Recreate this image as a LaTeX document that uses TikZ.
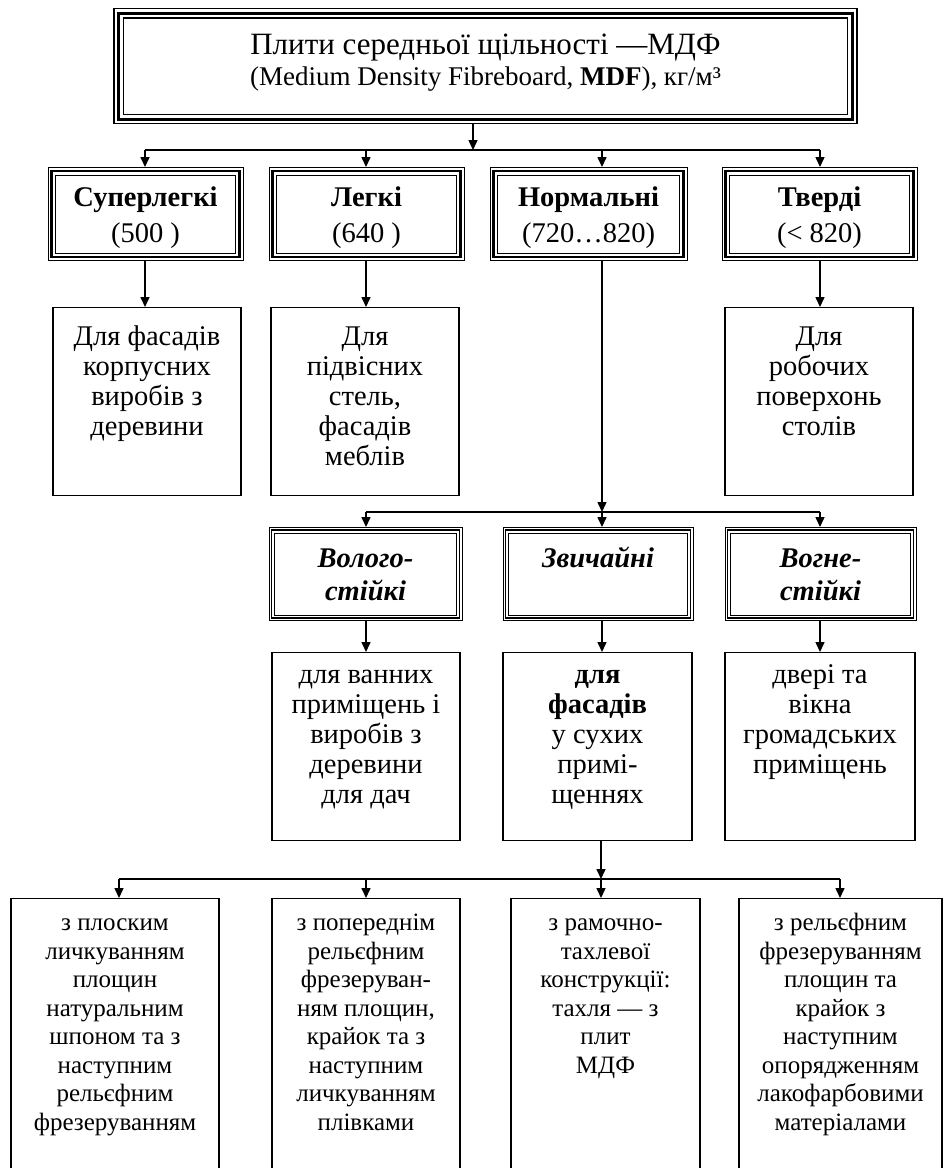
\documentclass[tikz,border=0pt]{standalone}
\usepackage{fontspec}
\setmainfont{Liberation Serif}
\usetikzlibrary{arrows.meta}
\newcommand\bt[4]{\parbox[c][#1pt][t]{#2pt}{\centering\lineskiplimit=-100pt\lineskip=0pt\rule{0pt}{#3pt}#4\par}}
\newcommand\tribox[5]{%
  \draw[line width=#3pt] ([shift={(#2,#2)}]#1.north west) rectangle ([shift={(-#2,-#2)}]#1.south east);
  \draw[line width=#5pt] ([shift={(#4,#4)}]#1.north west) rectangle ([shift={(-#4,-#4)}]#1.south east);}
\begin{document}
\begin{tikzpicture}[x=1pt,y=-1pt,
  conn/.style={line width=1.5pt,-{Triangle[width=9pt,length=10pt]}},
  bar/.style={line width=1.5pt},
  plain/.style={draw,line width=1.2pt,inner sep=0pt,anchor=north,font=\fontsize{28.5}{30}\selectfont},
  small/.style={plain,font=\fontsize{25}{28.5}\selectfont},
  lvtwo/.style={draw,line width=1pt,inner sep=0pt,anchor=north,font=\fontsize{28.5}{36}\selectfont},
  lvfour/.style={draw,line width=1pt,inner sep=0pt,anchor=north,font=\fontsize{28.5}{33}\selectfont},
  topst/.style={draw,line width=1.2pt,inner sep=0pt,anchor=north,font=\fontsize{27}{31}\selectfont}]
\useasboundingbox (0,0) rectangle (943,1168);
\clip (0,0) rectangle (943,1168);
% top
\node[topst] (top) at (485.5,8) {\bt{115}{743}{46}{{\fontsize{31}{31}\selectfont Плити середньої щільності —МДФ}\\(Medium Density Fibreboard, \textbf{MDF}), кг/м³}};
\tribox{top}{5}{3}{10}{1.2}
% level 2
\node[lvtwo] (sl) at (145.5,167) {\bt{93}{195}{39}{\textbf{Суперлегкі}\\(500 )}};
\node[lvtwo] (lg) at (366.5,167) {\bt{93}{195}{39}{\textbf{Легкі}\\(640 )}};
\node[lvtwo] (nr) at (588.5,167) {\bt{93}{197}{39}{\textbf{Нормальні}\\(720…820)}};
\node[lvtwo] (tv) at (819.5,167) {\bt{93}{195}{39}{\textbf{Тверді}\\(< 820)}};
\foreach \n in {sl,lg,nr,tv}{\tribox{\n}{4}{2.6}{8}{1}}
% level 3
\node[plain] (sla) at (147,307) {\bt{188}{188}{38}{Для фасадів\\корпусних\\виробів з\\деревини}};
\node[plain] (lga) at (365,307) {\bt{188}{188}{38}{Для\\підвісних\\стель,\\фасадів\\меблів}};
\node[plain] (tva) at (819,307) {\bt{188}{188}{38}{Для\\робочих\\поверхонь\\столів}};
% level 4
\node[lvfour] (vs) at (365.5,527) {\bt{93}{193}{40}{\textbf{\textit{Волого-}}\\\textbf{\textit{стійкі}}}};
\node[lvfour] (zv) at (598,527) {\bt{93}{190}{40}{\textbf{\textit{Звичайні}}}};
\node[lvfour] (vg) at (820.5,527) {\bt{93}{191}{40}{\textbf{\textit{Вогне-}}\\\textbf{\textit{стійкі}}}};
\foreach \n in {vs,zv,vg}{\tribox{\n}{3}{1.4}{6}{1}}
% level 5
\node[plain] (vsa) at (366,652) {\bt{188}{188}{31}{для ванних\\приміщень і\\виробів з\\деревини\\для дач}};
\node[plain] (zva) at (597.5,652) {\bt{188}{189}{31}{\textbf{для}\\\textbf{фасадів}\\у сухих\\примі-\\щеннях}};
\node[plain] (vga) at (820,652) {\bt{188}{190}{31}{двері та\\вікна\\громадських\\приміщень}};
% level 6
\node[small] (fa) at (115,898) {\bt{290}{208}{32}{з плоским\\личкуванням\\площин\\натуральним\\шпоном та з\\наступним\\рельєфним\\фрезеруванням}};
\node[small] (fb) at (366,898) {\bt{290}{188}{32}{з попереднім\\рельєфним\\фрезеруван-\\ням площин,\\крайок та з\\наступним\\личкуванням\\плівками}};
\node[small] (fc) at (605.5,898) {\bt{290}{189}{32}{з рамочно-\\тахлевої\\конструкції:\\тахля — з\\плит\\МДФ}};
\node[small] (fd) at (840.5,898) {\bt{290}{203}{32}{з рельєфним\\фрезеруванням\\площин та\\крайок з\\наступним\\опорядженням\\лакофарбовими\\матеріалами}};
% junctions
\coordinate (j0) at (473,150);
\coordinate (b1l) at (145,150);
\coordinate (b1r) at (820,150);
\coordinate (j1) at (366,150);
\coordinate (j2) at (602,150);
\coordinate (k0) at (602,512);
\coordinate (b2l) at (366,512);
\coordinate (b2r) at (820,512);
\coordinate (m0) at (601,879);
\coordinate (b3l) at (119,879);
\coordinate (b3r) at (840,879);
\coordinate (m1) at (366,879);
% connectors
\draw[conn] (top.south -| j0) -- (j0);
\draw[bar] (b1l) -- (b1r);
\draw[conn] (b1l) -- (sl.north -| b1l);
\draw[conn] (j1) -- (lg.north -| j1);
\draw[conn] (j2) -- (nr.north -| j2);
\draw[conn] (b1r) -- (tv.north -| b1r);
\draw[conn] (sl.south -| b1l) -- (sla.north -| b1l);
\draw[conn] (lg.south -| j1) -- (lga.north -| j1);
\draw[conn] (tv.south -| b1r) -- (tva.north -| b1r);
\draw[conn] (nr.south -| k0) -- (k0);
\draw[bar] (b2l) -- (b2r);
\draw[conn] (b2l) -- (vs.north -| b2l);
\draw[conn] (k0) -- (zv.north -| k0);
\draw[conn] (b2r) -- (vg.north -| b2r);
\draw[conn] (vs.south -| b2l) -- (vsa.north -| b2l);
\draw[conn] (zv.south -| k0) -- (zva.north -| k0);
\draw[conn] (vg.south -| b2r) -- (vga.north -| b2r);
\draw[conn] (zva.south -| m0) -- (m0);
\draw[bar] (b3l) -- (b3r);
\draw[conn] (b3l) -- (fa.north -| b3l);
\draw[conn] (m1) -- (fb.north -| m1);
\draw[conn] (m0) -- (fc.north -| m0);
\draw[conn] (b3r) -- (fd.north -| b3r);
\end{tikzpicture}
\end{document}
